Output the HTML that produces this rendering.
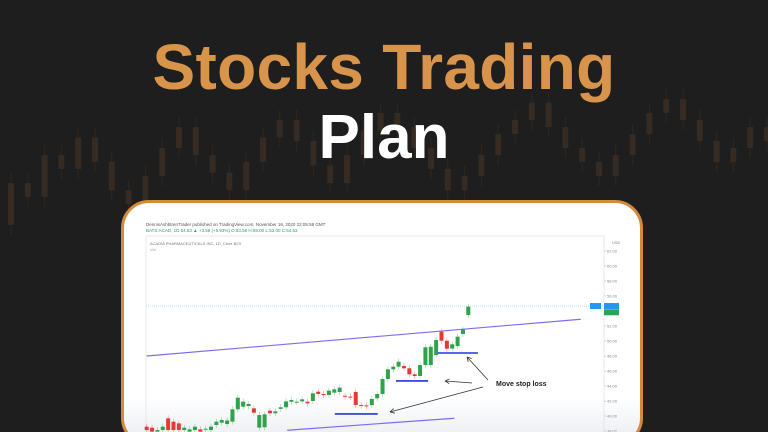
<!DOCTYPE html>
<html><head><meta charset="utf-8"><style>
html,body{margin:0;padding:0;width:768px;height:432px;overflow:hidden}
body{background:#1e1e1e;font-family:"Liberation Sans",sans-serif;position:relative}
#bg{position:absolute;left:0;top:0}
.t{position:absolute;left:0;width:768px;text-align:center;font-weight:bold}
#card{position:absolute;left:121px;top:200px;width:516px;height:240px;border:3px solid #d48a3c;border-radius:28px;background:linear-gradient(#fff 0,#fff 195px,#eceef2 235px);overflow:hidden}
</style></head><body>
<svg id="bg" width="768" height="432"></svg>
<div class="t" style="top:30px;font-size:64px;letter-spacing:0.3px;color:#d9944b;">Stocks Trading</div>
<div class="t" style="top:102px;font-size:62px;letter-spacing:0px;color:#fff;">Plan</div>
<div id="card"></div>
<svg id="chart" width="768" height="432" style="position:absolute;left:0;top:0"></svg>
<script>
// background decoration candles (faint)
const bgOpen=[30,42,38,50,46,55,48,40,36,44,52,58,50,45,40,48,55,60,54,47,42,50,57,62,58,52,46,40,44,50,56,60,65,58,52,48,44,50,56,62,66,60,54,48,52,58];
const bgClose=[42,38,50,46,55,48,40,36,44,52,58,50,45,40,48,55,60,54,47,42,50,57,62,58,52,46,40,44,50,56,60,65,58,52,48,44,50,56,62,66,60,54,48,52,58,54];
// chart data
const opens=[38.58,38.44,37.91,38.13,39.69,39.24,39.02,38.13,37.91,38.13,38.22,38.2,38.13,38.80,39.11,38.93,39.24,40.89,41.24,41.33,41.02,38.45,38.5,40.71,40.36,40.95,41.16,41.90,41.91,41.95,41.91,42.00,43.24,42.93,42.80,43.11,43.20,42.70,42.58,43.2,41.47,41.42,41.45,42.36,42.93,44.93,46.22,46.58,46.67,46.36,45.56,45.33,46.80,46.80,48.13,51.24,50.04,48.98,49.33,50.93,53.47];
const closes=[38.13,37.91,38.13,38.58,38.13,38.13,38.13,38.44,38.22,38.58,37.91,38.3,38.58,39.24,39.47,39.40,40.89,42.44,41.91,41.60,40.44,40.13,40.22,40.36,40.62,41.16,41.95,42.13,41.91,42.22,41.69,43.02,42.93,42.80,43.38,43.56,43.78,42.58,42.50,41.47,41.40,41.30,42.27,42.93,44.93,46.22,46.58,47.24,46.36,45.56,45.33,46.80,49.16,49.24,50.13,50.04,48.98,49.56,50.58,51.56,54.58];
const yTicks=[62,60,58,56,54,52,50,48,46,44,42,40,38];
const trendUp=[[0,48.0],[81,52.9]];
const trendLow=[[26.2,38.1],[57.4,39.7]];
const stops=[[35.1,43.1,40.27],[46.5,52.5,44.67],[53.8,61.8,48.4]];
const NS='http://www.w3.org/2000/svg';
function mk(p,tag,a){const e=document.createElementNS(NS,tag);for(const k in a)e.setAttribute(k,a[k]);p.appendChild(e);return e;}
const bg=document.getElementById('bg');
mk(bg,'rect',{x:0,y:0,width:768,height:432,fill:'#1e1e1e'});
const bgx=i=>8+i*16.8, bgy=v=>330-v*3.5;
for(let i=0;i<bgOpen.length;i++){
 const a=bgy(bgOpen[i]),b=bgy(bgClose[i]);
 const w=mk(bg,'line',{x1:bgx(i)+3,x2:bgx(i)+3,y1:Math.min(a,b)-10,y2:Math.max(a,b)+10,stroke:'#2f271f','stroke-width':1});
 
 const r=mk(bg,'rect',{x:bgx(i),y:Math.min(a,b),width:6,height:Math.max(2,Math.abs(a-b)),fill:'#352b22'});
 
}
const s=document.getElementById('chart');
const X=i=>146.7+i*5.36, Y=v=>326-(v-52)*7.5;
const clip=mk(s,'clipPath',{id:'cp'});mk(clip,'rect',{x:124,y:203,width:512,height:229,rx:25});
const g=mk(s,'g',{'clip-path':'url(#cp)'});
const hdr=mk(g,'text',{x:146,y:226,'font-size':4.5,fill:'#555'});hdr.textContent='DennisAshbtrenTrader published on TradingView.com, November 16, 2020 22:05:58 GMT';

const h2=mk(g,'text',{x:146,y:232,'font-size':4.5,fill:'#2a9d6b'});h2.textContent='BATS:ACAD, 1D 54.63 ▲ +3.58 (+5.93%) O:53.58 H:55.00 L:53.00 C:54.63';

mk(g,'rect',{x:146,y:236,width:458,height:200,fill:'none',stroke:'#ddd','stroke-width':0.6});
const h3=mk(g,'text',{x:150,y:245,'font-size':4,fill:'#777'});h3.textContent='ACADIA PHARMACEUTICALS INC, 1D, Cboe BZX';

const h4=mk(g,'text',{x:150,y:251,'font-size':4,fill:'#999'});h4.textContent='Vol';
const u=mk(g,'text',{x:612,y:244,'font-size':4,fill:'#888'});u.textContent='USD';
yTicks.forEach(v=>{const t=mk(g,'text',{x:607,y:Y(v)+1.5,'font-size':4,fill:'#888'});t.textContent=v.toFixed(2);
 
 mk(g,'line',{x1:604,x2:606,y1:Y(v),y2:Y(v),stroke:'#aaa','stroke-width':0.5});});
mk(g,'line',{x1:146,x2:604,y1:Y(54.66),y2:Y(54.66),stroke:'#9fd3ee','stroke-width':0.6,'stroke-dasharray':'1,1'});
mk(g,'rect',{x:590,y:Y(54.66)-3,width:11,height:6,fill:'#2196f3'});
mk(g,'rect',{x:604,y:Y(54.66)-3,width:15,height:6,fill:'#2196f3'});
mk(g,'rect',{x:604,y:Y(54.63)+3,width:15,height:6,fill:'#26a65b'});
[trendUp,trendLow].forEach((t,k)=>{const l=mk(g,'line',{x1:X(t[0][0]),y1:Y(t[0][1]),x2:X(t[1][0]),y2:Y(t[1][1]),stroke:'#7b6ef0','stroke-width':1.2});
 });
stops.forEach(st=>{const l=mk(g,'line',{x1:X(st[0]),x2:X(st[1]),y1:Y(st[2]),y2:Y(st[2]),stroke:'#2233dd','stroke-width':1.6});
 });
for(let i=0;i<opens.length;i++){
 const o=opens[i],c=closes[i],up=c>=o,col=up?'#2fa24a':'#e53935';
 const top=Y(Math.max(o,c)),bot=Y(Math.min(o,c));
 const w=mk(g,'line',{x1:X(i),x2:X(i),y1:top-3,y2:bot+3,stroke:col,'stroke-width':0.5,opacity:0.6});
 
 const r=mk(g,'rect',{x:X(i)-2,y:top,width:4,height:Math.max(1,bot-top),fill:col});
 
}
const arrows=[[472,383,445,381],[483,387,390,412],[488,380,467,357]];
arrows.forEach(a=>{const l=mk(g,'line',{x1:a[0],y1:a[1],x2:a[2],y2:a[3],stroke:'#333','stroke-width':0.8});
 
 const ang=Math.atan2(a[3]-a[1],a[2]-a[0]);
 [0.5,-0.5].forEach(d=>mk(g,'line',{x1:a[2],y1:a[3],x2:a[2]-5*Math.cos(ang+d),y2:a[3]-5*Math.sin(ang+d),stroke:'#333','stroke-width':0.8}));});
const ms=mk(g,'text',{x:496,y:386,'font-size':7,'font-weight':'bold',fill:'#222'});ms.textContent='Move stop loss';

</script>
</body></html>
